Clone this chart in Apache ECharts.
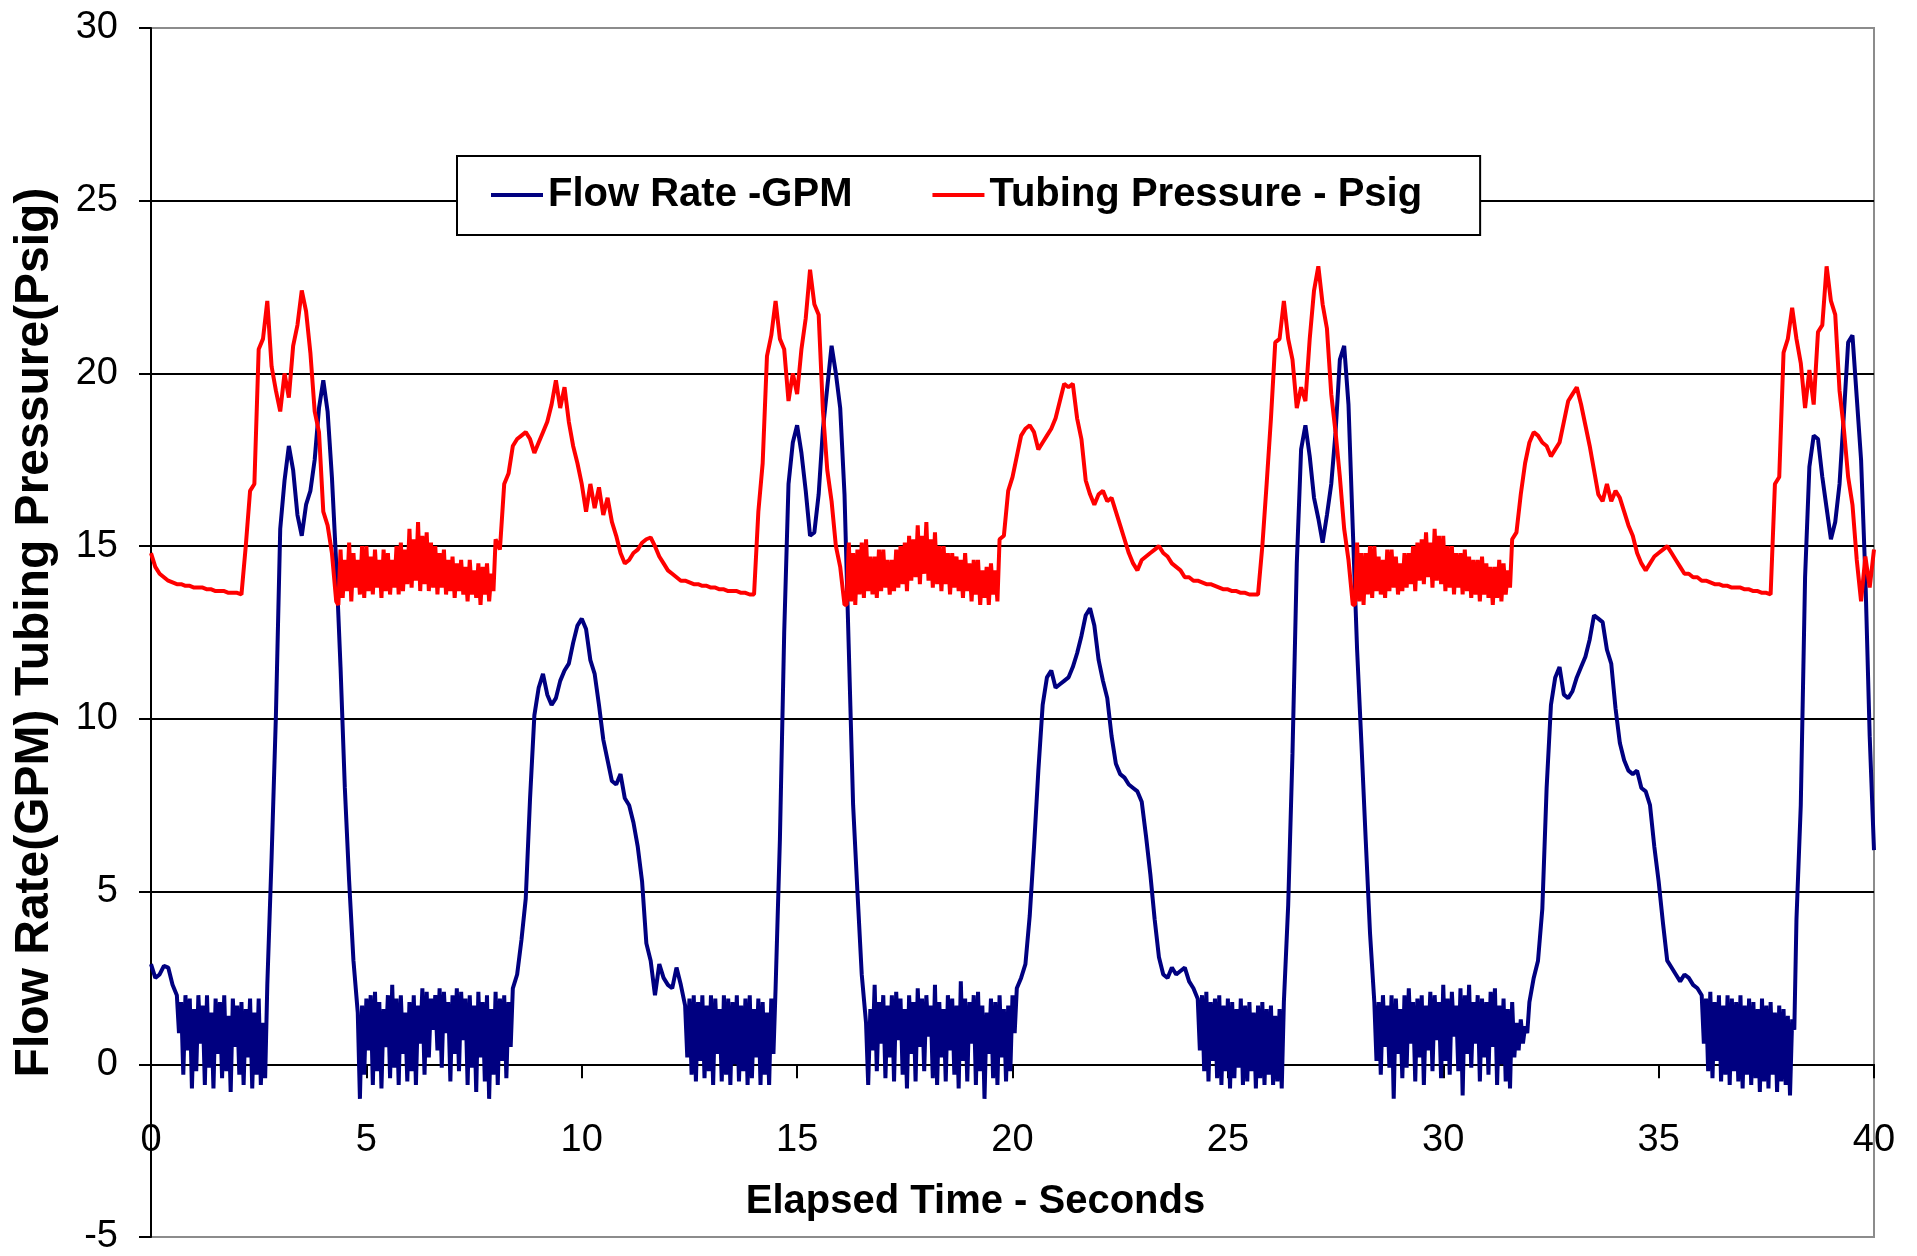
<!DOCTYPE html>
<html>
<head>
<meta charset="utf-8">
<title>Flow Rate and Tubing Pressure</title>
<script src="https://cdn.jsdelivr.net/npm/echarts@6/dist/echarts.min.js"></script>
<style>
  html, body { margin: 0; padding: 0; background: #fff; }
  #chart { width: 1917px; height: 1256px; }
</style>
</head>
<body>
<div id="chart"></div>
<script>
// one reading every 0.1 s, 0 .. 40 s; the chattering stretches also have
// readings half-way between (the "between" arrays further down)
const SAMPLE_STEP = 0.1;

// Flow Rate - GPM (10 readings per row = 1 s)
const flow0to10 = [
  2.9, 2.5, 2.6, 2.85, 2.8, 2.3, 2.0, 1.8, 2.0, 1.9,
  1.6, 2.0, 1.7, 2.0, 1.5, 1.9, 1.8, 2.0, 1.4, 1.9,
  1.7, 1.8, 1.6, 1.9, 1.5, 1.9, 1.2, 2.3, 6.0, 10.1,
  15.5, 16.9, 17.9, 17.2, 15.9, 15.3, 16.2, 16.6, 17.5, 19.0,
  19.8, 18.9, 17.0, 14.5, 11.5, 8.0, 5.3, 3.0, 1.5, 1.7,
  1.9, 2.0, 2.1, 1.8, 1.6, 2.0, 2.3, 1.9, 2.0, 1.5,
  1.8, 2.0, 1.7, 2.2, 2.1, 1.9, 2.0, 2.2, 2.1, 1.8,
  2.0, 2.2, 2.1, 1.9, 2.0, 1.7, 2.1, 1.8, 2.0, 1.6,
  2.1, 1.9, 2.0, 1.8, 2.2, 2.6, 3.6, 4.8, 7.7, 10.1,
  10.9, 11.3, 10.7, 10.4, 10.6, 11.1, 11.4, 11.6, 12.2, 12.7
];
const flow10to20 = [
  12.9, 12.6, 11.7, 11.3, 10.4, 9.4, 8.8, 8.2, 8.1, 8.4,
  7.7, 7.5, 7.0, 6.3, 5.3, 3.5, 3.0, 2.0, 2.9, 2.5,
  2.3, 2.2, 2.8, 2.3, 1.7, 1.9, 2.0, 1.8, 2.0, 1.7,
  2.0, 1.9, 1.6, 2.0, 1.9, 1.8, 2.0, 1.7, 1.9, 2.0,
  1.6, 1.9, 1.8, 1.5, 1.9, 2.2, 6.5, 12.5, 16.8, 18.0,
  18.5, 17.7, 16.6, 15.3, 15.4, 16.5, 18.4, 19.6, 20.8, 20.0,
  19.0, 16.5, 12.0, 7.5, 5.0, 2.6, 1.2, 1.6, 2.3, 1.8,
  2.0, 1.7, 2.0, 2.1, 1.9, 1.6, 2.0, 1.8, 2.2, 1.9,
  2.0, 1.7, 2.3, 1.8, 1.6, 2.0, 1.9, 1.7, 2.4, 1.9,
  1.8, 2.0, 2.1, 1.7, 1.5, 1.9, 1.8, 2.0, 1.6, 1.7
];
const flow20to30 = [
  2.0, 2.2, 2.5, 2.9, 4.3, 6.3, 8.5, 10.4, 11.2, 11.4,
  10.9, 11.0, 11.1, 11.2, 11.5, 11.9, 12.4, 13.0, 13.2, 12.7,
  11.7, 11.1, 10.6, 9.5, 8.7, 8.4, 8.3, 8.1, 8.0, 7.9,
  7.6, 6.6, 5.5, 4.2, 3.1, 2.6, 2.5, 2.8, 2.6, 2.7,
  2.8, 2.4, 2.2, 1.9, 2.0, 2.1, 1.8, 1.9, 2.0, 1.7,
  1.9, 1.8, 1.6, 1.9, 1.7, 1.8, 1.5, 1.7, 1.8, 1.6,
  1.7, 1.4, 1.6, 1.8, 4.6, 9.0, 14.5, 17.8, 18.5, 17.6,
  16.4, 15.8, 15.1, 15.9, 16.8, 18.3, 20.4, 20.8, 19.1, 15.5,
  12.0, 9.3, 6.5, 3.8, 1.8, 1.8, 2.0, 1.7, 2.0, 1.9,
  1.6, 2.0, 2.2, 1.8, 1.9, 2.0, 1.7, 2.1, 2.0, 1.8
];
const flow30to40 = [
  2.3, 1.9, 2.1, 1.7, 2.2, 2.0, 2.3, 1.8, 2.0, 1.9,
  1.8, 2.1, 2.2, 1.7, 1.9, 1.6, 1.8, 1.2, 1.3, 1.1,
  1.8, 2.5, 3.0, 4.5, 8.0, 10.4, 11.2, 11.5, 10.7, 10.6,
  10.8, 11.2, 11.5, 11.8, 12.3, 13.0, 12.9, 12.8, 12.0, 11.6,
  10.3, 9.3, 8.8, 8.5, 8.4, 8.5, 8.0, 7.9, 7.5, 6.3,
  5.3, 4.1, 3.0, 2.8, 2.6, 2.4, 2.6, 2.5, 2.3, 2.2,
  2.0, 1.9, 2.1, 1.8, 2.0, 1.7, 2.0, 1.9, 1.8, 2.0,
  1.7, 1.9, 1.8, 1.6, 1.9, 1.7, 1.8, 1.5, 1.7, 1.6,
  1.4, 1.3, 4.2, 7.5, 14.1, 17.3, 18.2, 18.1, 17.0, 16.1,
  15.2, 15.7, 16.8, 18.8, 20.9, 21.1, 19.3, 17.5, 14.1, 9.5,
  6.2
];

// flow readings half-way between samples while the flow chatters near zero
const flowBetween1 = [0.9, -0.3, 0.4, -0.7, -0.2, 0.6, -0.6, -0.1, -0.7, 0.3, -0.4, -0.2, -0.8, 0.5, -0.3, -0.6, 0.2, -0.7, -0.3, -0.6, -0.4];
const flowBetween2 = [-1.0, -0.3, 0.4, -0.6, -0.2, -0.7, 0.5, -0.4, -0.1, -0.6, 0.3, -0.5, -0.2, -0.6, 0.6, -0.3, 0.2, 1.0, 0.4, -0.1, 0.9, -0.5, 0.3, -0.2, 0.7, -0.6, -0.1, -0.8, 0.2, -0.5, -1.0, -0.3, -0.6, 0.1, -0.4, 0.5];
const flowBetween3 = [0.2, -0.3, -0.5, 0.1, -0.4, -0.2, -0.6, 0.3, -0.5, -0.3, -0.6, 0.0, -0.5, -0.2, -0.6, -0.4, 0.2, -0.6, -0.3, -0.6, 0.3];
const flowBetween4 = [-0.6, 0.4, -0.2, 0.6, -0.4, 0.2, -0.5, 0.7, -0.3, -0.7, 0.3, -0.5, 0.5, -0.2, 0.8, -0.4, -0.6, 0.2, -0.5, 0.4, -0.3, -0.7, 0.1, -0.5, 0.6, -0.6, -0.2, -1.0, 0.3, -0.4, -0.6, 0.2, -0.5, -0.2, 0.9];
const flowBetween5 = [0.4, -0.2, -0.5, 0.1, -0.4, -0.6, -0.2, -0.7, -0.4, -0.1, -0.6, -0.5, -0.2, -0.7, -0.4, -0.6, -0.3, -0.6, -0.5, -0.7];
const flowBetween6 = [0.1, -0.3, 0.5, -0.1, -1.0, 0.3, -0.4, -0.1, 0.6, -0.5, 0.2, -0.6, 0.4, -0.2, 0.7, -0.4, 0.1, -0.3, 0.8, -0.2, -0.9, 0.3, -0.1, 0.6, -0.5, 0.2, -0.3, 0.5, -0.6, 0.0, -0.5, -0.7, 0.2, 0.4, 0.6, 0.9];
const flowBetween7 = [0.6, -0.2, -0.4, 0.1, -0.5, -0.3, -0.6, -0.2, -0.5, -0.7, -0.3, -0.6, -0.4, -0.8, -0.5, -0.7, -0.3, -0.8, -0.5, -0.6, -0.9, 1.0];
const flowBetween = [
  [0.65, flowBetween1], [4.85, flowBetween2], [12.45, flowBetween3], [16.65, flowBetween4],
  [24.35, flowBetween5], [28.45, flowBetween6], [36.05, flowBetween7]
];

// Tubing Pressure - Psig
const pressure0to10 = [
  14.8, 14.4, 14.2, 14.1, 14.0, 13.95, 13.9, 13.9, 13.85, 13.85,
  13.8, 13.8, 13.8, 13.75, 13.75, 13.7, 13.7, 13.7, 13.65, 13.65,
  13.65, 13.6, 15.0, 16.6, 16.8, 20.7, 21.0, 22.1, 20.2, 19.5,
  18.9, 20.0, 19.3, 20.8, 21.4, 22.4, 21.8, 20.6, 18.9, 18.3,
  16.0, 15.6, 14.8, 13.4, 14.9, 14.6, 15.1, 14.8, 14.6, 15.0,
  15.0, 14.7, 14.9, 14.6, 14.9, 14.8, 14.6, 15.0, 15.1, 14.9,
  15.5, 15.2, 15.7, 15.3, 15.4, 15.1, 15.0, 14.8, 14.9, 14.6,
  14.7, 14.5, 14.6, 14.4, 14.6, 14.3, 14.5, 14.4, 14.5, 14.2,
  15.2, 14.9, 16.8, 17.1, 17.9, 18.1, 18.2, 18.3, 18.1, 17.7,
  18.0, 18.3, 18.6, 19.1, 19.8, 19.0, 19.6, 18.6, 17.9, 17.4
];
const pressure10to20 = [
  16.8, 16.0, 16.8, 16.1, 16.7, 15.9, 16.4, 15.7, 15.3, 14.8,
  14.5, 14.6, 14.8, 14.9, 15.1, 15.2, 15.25, 15.0, 14.7, 14.5,
  14.3, 14.2, 14.1, 14.0, 14.0, 13.95, 13.9, 13.9, 13.85, 13.85,
  13.8, 13.8, 13.75, 13.75, 13.7, 13.7, 13.7, 13.65, 13.65, 13.6,
  13.6, 16.0, 17.4, 20.5, 21.1, 22.1, 21.0, 20.7, 19.2, 20.0,
  19.4, 20.7, 21.6, 23.0, 22.0, 21.7, 18.9, 17.2, 16.3, 15.0,
  14.4, 13.3, 15.1, 14.8, 14.9, 15.1, 15.2, 14.7, 14.7, 14.9,
  14.9, 14.6, 14.6, 14.9, 15.0, 15.1, 15.3, 15.2, 15.6, 15.3,
  15.7, 15.2, 15.4, 15.0, 15.0, 14.8, 14.8, 14.7, 14.6, 14.8,
  14.5, 14.6, 14.6, 14.3, 14.4, 14.5, 14.3, 15.2, 15.3, 16.6
];
const pressure20to30 = [
  17.0, 17.6, 18.2, 18.4, 18.5, 18.3, 17.8, 18.0, 18.2, 18.4,
  18.7, 19.2, 19.7, 19.6, 19.7, 18.7, 18.1, 16.9, 16.5, 16.2,
  16.5, 16.6, 16.3, 16.4, 16.0, 15.6, 15.2, 14.8, 14.5, 14.3,
  14.6, 14.7, 14.8, 14.9, 15.0, 14.8, 14.7, 14.5, 14.4, 14.3,
  14.1, 14.1, 14.0, 14.0, 13.95, 13.9, 13.9, 13.85, 13.8, 13.75,
  13.75, 13.7, 13.7, 13.65, 13.65, 13.6, 13.6, 13.6, 15.0, 16.8,
  18.7, 20.9, 21.0, 22.1, 21.0, 20.4, 19.0, 19.6, 19.2, 21.0,
  22.4, 23.1, 22.0, 21.3, 19.4, 18.3, 17.0, 15.5, 14.6, 13.3,
  15.1, 14.8, 14.8, 15.0, 15.0, 14.7, 14.6, 14.9, 14.9, 14.7,
  14.5, 14.8, 14.8, 15.0, 15.1, 15.2, 15.4, 15.1, 15.5, 15.3
];
const pressure30to40 = [
  15.3, 15.0, 15.0, 14.8, 14.8, 14.9, 14.7, 14.6, 14.6, 14.7,
  14.5, 14.4, 14.4, 14.6, 14.5, 14.3, 15.2, 15.4, 16.5, 17.4,
  18.0, 18.3, 18.2, 18.0, 17.9, 17.6, 17.8, 18.0, 18.6, 19.2,
  19.4, 19.6, 19.1, 18.5, 17.9, 17.2, 16.5, 16.3, 16.8, 16.3,
  16.6, 16.4, 16.0, 15.6, 15.3, 14.8, 14.5, 14.3, 14.5, 14.7,
  14.8, 14.9, 15.0, 14.8, 14.6, 14.4, 14.2, 14.2, 14.1, 14.1,
  14.0, 14.0, 13.95, 13.9, 13.9, 13.85, 13.85, 13.8, 13.8, 13.8,
  13.75, 13.75, 13.7, 13.7, 13.65, 13.65, 13.6, 16.8, 17.0, 20.6,
  21.0, 21.9, 21.0, 20.3, 19.0, 20.1, 19.1, 21.2, 21.4, 23.1,
  22.1, 21.7, 19.5, 18.4, 17.0, 16.2, 14.6, 13.4, 14.7, 13.8,
  14.9
];

// pressure readings half-way between samples in the chattering stretches
const pressureBetween1 = [13.3, 13.5, 13.7, 13.4, 13.8, 13.6, 13.5, 13.7, 13.6, 13.8, 13.5, 13.7, 13.6, 13.8, 13.6, 13.7, 13.9, 13.8, 14.0, 13.7, 13.9, 13.7, 13.8, 13.6, 13.8, 13.6, 13.7, 13.5, 13.7, 13.6, 13.4, 13.6, 13.5, 13.3, 13.6, 13.4, 13.7];
const pressureBetween2 = [13.3, 13.4, 13.3, 13.6, 13.5, 13.7, 13.6, 13.5, 13.7, 13.8, 13.6, 13.7, 13.8, 13.9, 13.7, 14.0, 14.1, 13.9, 14.2, 14.0, 13.8, 13.9, 13.7, 13.9, 13.6, 13.8, 13.7, 13.5, 13.7, 13.4, 13.6, 13.3, 13.5, 13.3, 13.6, 13.4];
const pressureBetween3 = [13.3, 13.4, 13.3, 13.6, 13.5, 13.7, 13.6, 13.5, 13.7, 13.8, 13.6, 13.7, 13.8, 13.9, 13.7, 14.0, 13.9, 14.1, 13.8, 14.0, 13.9, 13.7, 13.8, 13.6, 13.8, 13.6, 13.7, 13.5, 13.6, 13.4, 13.6, 13.5, 13.3, 13.5, 13.4, 13.6, 13.8];
const pressureBetween = [
  [4.35, pressureBetween1], [16.15, pressureBetween2], [27.95, pressureBetween3]
];

const seriesNames = ['Flow Rate -GPM', 'Tubing Pressure - Psig'];
const xTitle = 'Elapsed Time - Seconds';
const yTitle = 'Flow Rate(GPM) Tubing Pressure(Psig)';

// pair each reading with its time, then slot the half-way readings in
function buildSeries(values, between) {
  const pts = values.map((v, i) => [Math.round(i * SAMPLE_STEP * 100) / 100, v]);
  between.forEach(([t0, vals]) => {
    vals.forEach((v, k) => pts.push([Math.round((t0 + k * SAMPLE_STEP) * 100) / 100, v]));
  });
  return pts.sort((a, b) => a[0] - b[0]);
}
const flowData = buildSeries([].concat(flow0to10, flow10to20, flow20to30, flow30to40), flowBetween);
const pressureData = buildSeries([].concat(pressure0to10, pressure10to20, pressure20to30, pressure30to40), pressureBetween);

const font = '"Liberation Sans", Arial, sans-serif';

const GRID_TOP = 28, GRID_BOTTOM = 19, H = 1256;
// the time axis sits on the 0 line, 5 units above the -5 floor
const zeroOffset = -((H - GRID_TOP - GRID_BOTTOM) / 35) * 5;

const chart = echarts.init(document.getElementById('chart'), null, { renderer: 'canvas' });

const option = {
  animation: false,
  backgroundColor: '#fff',
  grid: {
    left: 151, right: 43, top: GRID_TOP, bottom: GRID_BOTTOM,
    outerBoundsMode: 'none',
    containLabel: false,
    show: true,
    borderColor: '#8c8c8c',
    borderWidth: 2
  },
  legend: {
    data: seriesNames,
    left: 457, top: 156,
    padding: [15, 58, 16, 34],
    itemWidth: 52, itemHeight: 4,
    itemGap: 80,
    icon: 'rect',
    backgroundColor: '#fff',
    borderColor: '#000',
    borderWidth: 2,
    textStyle: { fontFamily: font, fontWeight: 'bold', fontSize: 40, lineHeight: 48, color: '#000' }
  },
  xAxis: {
    type: 'value',
    position: 'bottom',
    offset: zeroOffset,
    min: 0, max: 40, interval: 5,
    name: xTitle,
    nameLocation: 'middle',
    nameGap: 118,
    nameTextStyle: { fontFamily: font, fontWeight: 'bold', fontSize: 40, color: '#000', padding: [0, 74, 0, 0] },
    axisLine: { onZero: false, lineStyle: { color: '#000', width: 2 } },
    axisTick: { show: true, length: 14, lineStyle: { color: '#000', width: 2 } },
    axisLabel: { fontFamily: font, fontSize: 38, color: '#000', margin: 57 },
    splitLine: { show: false }
  },
  yAxis: {
    type: 'value',
    min: -5, max: 30, interval: 5,
    name: yTitle,
    nameLocation: 'middle',
    nameGap: 92,
    nameTextStyle: { fontFamily: font, fontWeight: 'bold', fontSize: 48, color: '#000' },
    axisLine: { show: true, onZero: false, lineStyle: { color: '#000', width: 2 } },
    axisTick: { show: true, length: 12, lineStyle: { color: '#000', width: 2 } },
    axisLabel: { fontFamily: font, fontSize: 38, color: '#000', margin: 33 },
    splitLine: {
      show: true,
      lineStyle: {
        color: ['#8c8c8c', '#000', '#000', '#000', '#000', '#000', '#000', '#8c8c8c'],
        width: 2
      }
    }
  },
  series: [
    {
      name: seriesNames[0],
      type: 'line',
      data: flowData,
      showSymbol: false,
      color: '#000080',
      lineStyle: { color: '#000080', width: 4 }
    },
    {
      name: seriesNames[1],
      type: 'line',
      data: pressureData,
      showSymbol: false,
      color: '#ff0000',
      lineStyle: { color: '#ff0000', width: 4 }
    }
  ]
};

chart.setOption(option);
</script>
</body>
</html>
